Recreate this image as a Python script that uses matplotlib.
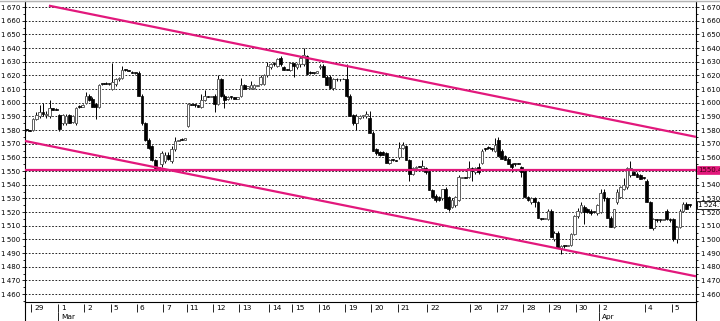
import matplotlib
matplotlib.use('Agg')
import matplotlib.pyplot as plt
from matplotlib.lines import Line2D
from matplotlib.ticker import MultipleLocator, FuncFormatter
import matplotlib.transforms as mtransforms
import numpy as np

# intraday OHLC candles
opens = [1580,1580,1580,1588,1590,1593,1591,1590,1596,1595,
         1591,1585,1585,1591,1586,1585,1597,1597,1600,1605,
         1603,1599,1597,1614,1614,1614,1610,1614,1617,1618,
         1624,1624,1622,1622,1622,1605,1585,1573,1568,1558,
         1552,1555,1557,1562,1557,1566,1572,1573,1573,1583,
         1599,1598,1598,1597,1602,1605,1604,1605,1599,1617,
         1605,1603,1604,1604,1603,1605,1613,1611,1611,1611,
         1612,1614,1614,1620,1626,1628,1627,1633,1626,1625,
         1624,1629,1626,1628,1628,1634,1622,1622,1622,1626,
         1627,1619,1619,1611,1617,1617,1617,1617,1605,1591,
         1585,1589,1590,1590,1589,1578,1566,1564,1564,1563,
         1556,1558,1558,1560,1567,1568,1558,1548,1552,1553,
         1552,1552,1550,1536,1532,1531,1530,1537,1531,1524,
         1525,1529,1545,1546,1546,1552,1549,1553,1556,1566,
         1567,1566,1565,1573,1565,1561,1559,1555,1555,1555,
         1553,1550,1531,1527,1530,1527,1515,1515,1515,1521,
         1500,1505,1493,1495,1495,1496,1504,1517,1520,1524,
         1522,1521,1520,1519,1520,1535,1530,1516,1509,1527,
         1531,1537,1538,1547,1549,1548,1547,1545,1543,1527,
         1508,1514,1514,1514,1521,1515,1515,1500,1509,1521,
         1526,1525]
highs = [1580,1580,1589,1593,1598,1600,1594,1602,1596,1596,
         1592,1592,1592,1592,1591,1597,1598,1599,1608,1606,
         1604,1600,1614,1614,1615,1614,1629,1618,1619,1627,
         1625,1624,1623,1622,1623,1606,1586,1574,1569,1559,
         1553,1565,1564,1564,1568,1575,1573,1574,1574,1600,
         1599,1599,1598,1606,1609,1605,1605,1606,1620,1618,
         1606,1605,1605,1604,1604,1618,1614,1612,1616,1614,
         1613,1620,1621,1630,1629,1630,1633,1634,1627,1625,
         1630,1629,1629,1634,1640,1635,1623,1622,1623,1628,
         1628,1620,1620,1618,1618,1617,1618,1628,1606,1592,
         1592,1591,1591,1594,1594,1579,1567,1565,1565,1564,
         1559,1559,1558,1571,1571,1569,1559,1553,1554,1554,
         1558,1553,1551,1537,1533,1532,1537,1538,1532,1530,
         1532,1547,1546,1546,1557,1553,1553,1556,1566,1567,
         1568,1567,1574,1575,1566,1562,1560,1556,1555,1556,
         1554,1551,1532,1531,1531,1528,1516,1516,1522,1522,
         1506,1506,1496,1496,1496,1505,1518,1523,1527,1525,
         1523,1522,1520,1526,1537,1537,1531,1517,1522,1537,
         1539,1545,1553,1557,1550,1549,1548,1546,1544,1528,
         1516,1515,1514,1515,1522,1516,1516,1510,1522,1527,
         1527,1526]
lows = [1579,1579,1579,1587,1589,1590,1589,1589,1595,1595,
        1579,1584,1584,1585,1585,1584,1596,1597,1599,1601,
        1597,1588,1596,1613,1614,1613,1609,1612,1616,1617,
        1623,1623,1622,1621,1605,1584,1572,1566,1557,1551,
        1551,1553,1556,1558,1556,1565,1572,1573,1573,1582,
        1598,1597,1597,1596,1601,1604,1604,1593,1598,1604,
        1596,1602,1603,1603,1603,1604,1610,1611,1610,1610,
        1612,1613,1613,1619,1625,1627,1626,1627,1624,1624,
        1623,1619,1625,1626,1627,1620,1621,1621,1622,1625,
        1619,1613,1610,1609,1616,1616,1617,1604,1590,1584,
        1580,1588,1589,1589,1578,1565,1562,1561,1562,1556,
        1555,1557,1557,1559,1566,1558,1543,1547,1551,1553,
        1551,1548,1536,1531,1527,1528,1529,1523,1521,1523,
        1524,1528,1545,1545,1545,1543,1548,1548,1555,1565,
        1566,1565,1564,1561,1559,1558,1555,1549,1554,1555,
        1546,1531,1528,1526,1524,1516,1514,1515,1514,1502,
        1499,1494,1489,1494,1495,1495,1503,1516,1519,1511,
        1519,1518,1519,1518,1519,1528,1516,1509,1508,1526,
        1530,1536,1537,1546,1547,1546,1544,1544,1527,1508,
        1507,1513,1513,1514,1514,1513,1499,1497,1508,1520,
        1522,1524]
closes = [1580,1579,1588,1591,1593,1592,1592,1596,1595,1595,
          1581,1591,1590,1585,1590,1596,1597,1598,1605,1602,
          1597,1597,1613,1614,1614,1614,1615,1617,1618,1624,
          1624,1623,1622,1622,1605,1585,1573,1567,1558,1552,
          1552,1563,1562,1559,1566,1572,1573,1573,1574,1599,
          1598,1598,1597,1602,1605,1604,1605,1599,1617,1605,
          1602,1604,1604,1603,1604,1613,1610,1612,1613,1613,
          1613,1619,1620,1627,1628,1628,1632,1628,1624,1624,
          1629,1627,1628,1633,1635,1621,1622,1622,1623,1627,
          1619,1613,1611,1617,1617,1617,1617,1605,1590,1585,
          1590,1590,1591,1592,1578,1565,1563,1562,1562,1556,
          1558,1558,1557,1567,1569,1558,1548,1552,1553,1553,
          1554,1549,1536,1531,1529,1529,1537,1523,1522,1529,
          1531,1546,1546,1545,1552,1550,1552,1549,1565,1566,
          1567,1566,1569,1561,1559,1558,1555,1553,1555,1555,
          1549,1531,1529,1530,1527,1516,1515,1516,1521,1502,
          1505,1494,1495,1495,1496,1504,1517,1521,1525,1520,
          1520,1519,1520,1525,1534,1530,1516,1509,1522,1535,
          1538,1540,1552,1552,1547,1546,1544,1545,1527,1508,
          1515,1514,1514,1515,1515,1514,1500,1509,1521,1526,
          1522,1525]

# first candle of each labelled day
day_starts = [2, 10, 18, 26, 34, 42, 49, 57, 65, 74, 81, 89, 97, 105, 113,
              122, 135, 143, 151, 159, 167, 174, 188, 196]
day_labels = ['29', '1', '2', '5', '6', '7', '11', '12', '13', '14', '15', '16',
              '19', '20', '21', '22', '26', '27', '28', '29', '30', '2', '4', '5']
month_starts = [10, 174]
month_labels = ['Mar', 'Apr']

# trend lines drawn on the chart
upper_x, upper_y = [6.8, 202.9], [1671, 1575]
lower_x, lower_y = [-0.45, 202.9], [1572, 1473]
level = 1550.46
last_price = 1524.9

pink = '#e2187c'
fs = 5
W, H = 720, 321
fig = plt.figure(figsize=(W / 100, H / 100), dpi=100)
ax = fig.add_axes([25 / W, 19 / H, 671 / W, 301 / H])

o = np.array(opens); c = np.array(closes)
x = np.arange(len(o))
up = c > o
ax.vlines(x, lows, highs, color='black', lw=0.7, zorder=2)
bottom = np.minimum(o, c)
height = np.maximum(np.abs(c - o), 0.7)
ax.bar(x[up], height[up], bottom=bottom[up], width=0.8, color='white',
       edgecolor='#606060', linewidth=0.7, zorder=3)
ax.bar(x[~up], height[~up], bottom=bottom[~up], width=0.85, color='black',
       edgecolor='black', linewidth=0.5, zorder=3)

ax.plot(upper_x, upper_y, color=pink, lw=1.6, zorder=4, solid_capstyle='butt')
ax.plot(lower_x, lower_y, color=pink, lw=1.6, zorder=4, solid_capstyle='butt')
ax.axhline(level, color=pink, lw=1.6, zorder=4)

ax.set_xlim(-0.45, 202.9)
ax.set_ylim(1454.2, 1674.4)
ax.set_xticks([])
ax.yaxis.set_major_locator(MultipleLocator(10))
ax.yaxis.set_minor_locator(MultipleLocator(5))
ax.yaxis.set_major_formatter(FuncFormatter(lambda v, p: '1\u2009%03d' % (int(round(v)) - 1000)))
ax.tick_params(axis='y', which='both', left=True, right=True, labelleft=True,
               labelright=True, direction='out', labelsize=fs, pad=0.8, width=0.6)
ax.tick_params(axis='y', which='major', length=2.5)
ax.tick_params(axis='y', which='minor', length=1.2)
ax.grid(axis='y', which='major', linestyle=(0, (2, 2)), color='black', lw=0.6, zorder=1)
ax.set_axisbelow(True)
for s in ['left', 'right', 'bottom']:
    ax.spines[s].set_linewidth(0.8)
ax.spines['top'].set_color('#b4b4b4')

trans = mtransforms.blended_transform_factory(ax.transAxes, ax.transData)
ax.text(1.003, level, '1550.46', transform=trans, fontsize=fs, va='center', ha='left',
        color='#400010', clip_on=False, zorder=6,
        bbox=dict(boxstyle='square,pad=0.15', fc=pink, ec=pink, lw=0.5))
ax.text(1.003, last_price, '1\u2009524.9', transform=trans, fontsize=fs, va='center', ha='left',
        color='black', clip_on=False, zorder=6,
        bbox=dict(boxstyle='square,pad=0.15', fc='white', ec='black', lw=0.6))

# date strip under the chart
ax2 = fig.add_axes([25 / W, 0, 671 / W, 19 / H])
ax2.set_xlim(-0.45, 202.9)
ax2.set_ylim(0, 1)
ax2.set_xticks([]); ax2.set_yticks([])
ax2.patch.set_alpha(0)
ax2.spines['top'].set_visible(False)
ax2.spines['bottom'].set_visible(False)
for s in ['left', 'right']:
    ax2.spines[s].set_linewidth(0.8)
for d, lab in zip(day_starts, day_labels):
    ax2.vlines(d - 0.5, 0.48, 0.92, color='black', lw=0.6)
    ax2.text(d - 0.5 + 0.9, 0.70, lab, fontsize=fs + 0.3, ha='left', va='center')
for m, lab in zip(month_starts, month_labels):
    ax2.vlines(m - 0.5, 0, 0.48, color='black', lw=0.6)
    ax2.text(m - 0.5 + 0.9, 0.22, lab, fontsize=fs + 0.3, ha='left', va='center')

fig.add_artist(Line2D([0, 1], [1 - 0.8 / H, 1 - 0.8 / H], color='#b4b4b4', lw=1))

# the pink box covers the right-hand 1550 label
fig.canvas.draw()
for t in ax.yaxis.get_major_ticks():
    if abs(t.get_loc() - 1550) < 0.5:
        t.label2.set_visible(False)

fig.savefig('out.png', dpi=100)
